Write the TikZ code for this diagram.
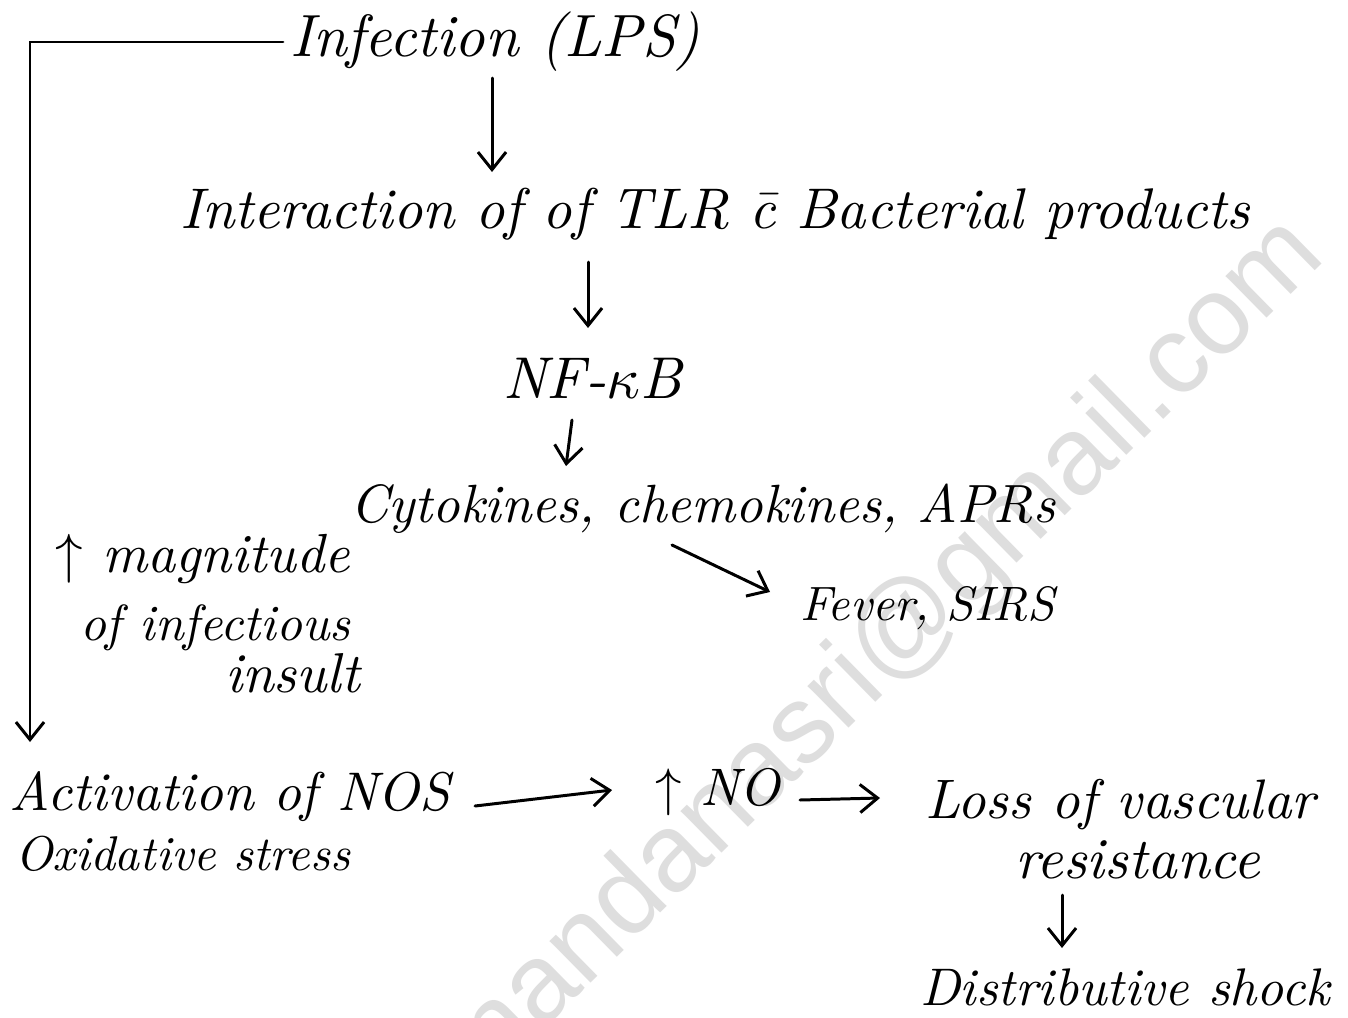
\documentclass[tikz,border=0pt]{standalone}
\usepackage{fontspec}
\usepackage{graphicx}
\usetikzlibrary{arrows.meta,calc}
\newfontfamily\wmfont{Liberation Sans}
\newlength\pxu
\setlength\pxu{0.02cm}
% text set to a given width (in pixel units of the drawing grid)
\newcommand{\hw}[2]{\resizebox{#1\pxu}{!}{\itshape #2}}
\definecolor{wmgray}{RGB}{222,222,222}
\begin{document}
\begin{tikzpicture}[x=0.02cm,y=-0.02cm,
  lbl/.style={inner sep=0pt,outer sep=0pt,anchor=base west},
  arr/.style={-{Straight Barb[length=10pt,width=16pt]},line width=1.7pt,line cap=round},
  link/.style={line width=1.3pt}]
\useasboundingbox[fill=white] (0,0) rectangle (1348,1017);

% watermark
\begin{scope}
  \clip (0,0) rectangle (1348,1017);
  \node[inner sep=0pt,anchor=base east,rotate=44.5,text=wmgray,font=\wmfont\fontsize{63}{70}\selectfont]
    (wm) at (1328,258) {nandanasri@gmail.com};
\end{scope}

% text
\node[lbl] (inf)   at (290,57)   {\hw{410}{Infection (LPS)}};
\node[lbl] (inter) at (180,228)  {\hw{1070}{Interaction of of TLR \=c Bacterial products}};
\node[lbl] (nfkb)  at (503,398)  {\hw{179}{NF-$\kappa$B}};
\node[lbl] (cyto)  at (350,522)  {\hw{705}{Cytokines, chemokines, APRs}};
\node[lbl] (fever) at (800,620)  {\hw{255}{Fever, SIRS}};
\node[lbl] (mag1)  at (55,572)   {\hw{295}{$\uparrow$ magnitude}};
\node[lbl] (mag2)  at (80,640)   {\hw{270}{of infectious}};
\node[lbl] (mag3)  at (225,692)  {\hw{135}{insult}};
\node[lbl] (act1)  at (10,810)   {\hw{440}{Activation of NOS}};
\node[lbl] (act2)  at (15,870)   {\hw{335}{Oxidative stress}};
\node[lbl] (no)    at (655,805)  {\hw{125}{$\uparrow$ NO}};
\node[lbl] (loss1) at (925,818)  {\hw{390}{Loss of vascular}};
\node[lbl] (loss2) at (1015,878) {\hw{245}{resistance}};
\node[lbl] (shock) at (920,1005) {\hw{410}{Distributive shock}};

% connectors
\draw[link,arr] ($(inf.base west)+(-7,-15)$) -| ($(act1.base west)+(20,-68)$);
\draw[arr] ($(492,0 |- inf.base)+(0,21)$) -- ($(492,0 |- inter.base)+(0,-56)$);
\draw[arr] ($(588,0 |- inter.base)+(0,34)$) -- ($(588,0 |- nfkb.base)+(0,-70)$);
\draw[arr] ($(572,0 |- nfkb.base)+(0,22)$) -- ($(566,0 |- cyto.base)+(0,-56)$);
\draw[arr] ($(672,0 |- cyto.base)+(0,23)$) -- ($(fever.base west)+(-30,-28)$);
\draw[arr] ($(act1.base east)+(25,-4)$) -- ($(no.base west)+(-43,-15)$);
\draw[arr] ($(no.base east)+(20,-5)$) -- ($(loss1.base west)+(-45,-20)$);
\draw[arr] ($(1062,0 |- loss2.base)+(0,17)$) -- ($(1062,0 |- shock.base)+(0,-57)$);
\end{tikzpicture}
\end{document}
